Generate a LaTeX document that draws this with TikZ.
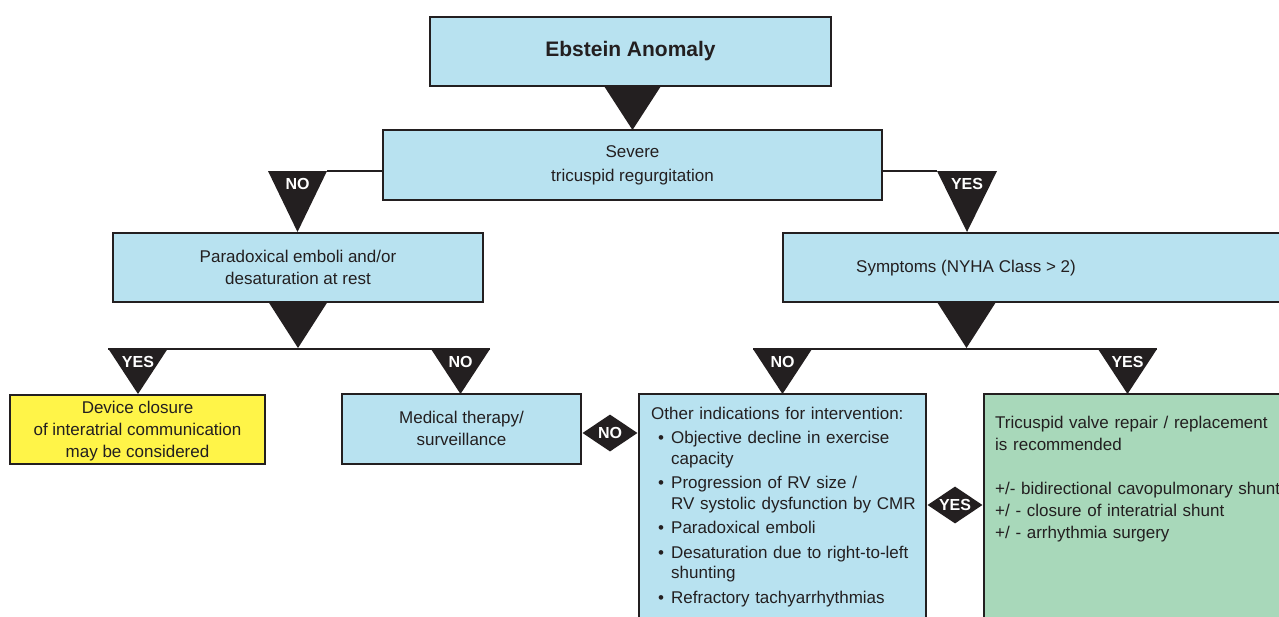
\documentclass[tikz,border=0pt]{standalone}
\usepackage{fontspec}
\setmainfont{Liberation Sans}
\usetikzlibrary{shapes.geometric,calc}

\definecolor{ink}{RGB}{35,31,32}
\definecolor{boxblue}{RGB}{184,226,240}
\definecolor{boxyellow}{RGB}{255,244,72}
\definecolor{boxgreen}{RGB}{168,216,186}

% filled downward triangle with a white tag: name, x, top y, width, height, text
\newcommand\decisiontri[6]{%
  \fill[ink] (#2-#4/2,#3) -- (#2+#4/2,#3) -- (#2,#3+#5) -- cycle;
  \node[tag] (#1) at (#2,#3+13) {#6};}

% bullet paragraph with hanging indent; lines split with \break
\newcommand\bitem[1]{\par\vskip 4pt\hangindent=20pt\hangafter=1\noindent
  \makebox[20pt][l]{\hspace{7pt}\textbullet}#1}

\begin{document}
\begin{tikzpicture}[x=1pt,y=-1pt,
  font=\fontsize{17}{22}\selectfont,
  box/.style={draw=ink, line width=1.5pt, fill=boxblue, inner sep=0pt,
    align=center, text=ink},
  tag/.style={text=white, font=\fontsize{16}{16}\selectfont\bfseries, inner sep=0pt},
  conn/.style={draw=ink, line width=2.2pt},
  gate/.style={diamond, fill=ink, inner sep=0pt, minimum width=55pt, minimum height=37pt}]
\useasboundingbox (0,0) rectangle (1279,616);

% boxes
\node[box, minimum width=401, minimum height=69,
  font=\fontsize{21}{24}\selectfont\bfseries] (ebstein) at (630.5,51.5) {Ebstein Anomaly};
\node[box, minimum width=499, minimum height=70] (severe) at (632.5,165) {};
\node[text=ink, inner sep=0pt, align=center] (severetxt) at (632.5,165.5)
  {Severe\\[2pt] tricuspid regurgitation};
\node[box, minimum width=370, minimum height=69] (parad) at (298,267.5)
  {Paradoxical emboli and/or\\ desaturation at rest};
\node[box, minimum width=507, minimum height=69] (sympt) at (1036.5,267.5) {};
\node[text=ink, inner sep=0pt] (symptxt) at (966,268) {Symptoms (NYHA Class > 2)};
\node[box, fill=boxyellow, minimum width=255, minimum height=69] (device) at (137.5,429.5) {};
\node[text=ink, inner sep=0pt, align=center] (devicetxt) at (137.5,431)
  {Device closure\\ of interatrial communication\\ may be considered};
\node[box, minimum width=239, minimum height=70] (medical) at (461.5,429) {};
\node[text=ink, inner sep=0pt, align=center] (medicaltxt) at (461.5,428.5)
  {Medical therapy/\\ surveillance};
\node[box, minimum width=287, minimum height=246] (other) at (782.5,517) {};
\node[box, fill=boxgreen, minimum width=316, minimum height=246] (valve) at (1142,517) {};

% texts of the two tall boxes
\node[anchor=north west, inner sep=0pt, text width=272, align=left, text=ink,
  font=\fontsize{17}{20.5}\selectfont] (othertxt) at (651,406.5)
  {\setlength\parskip{0pt}Other indications for intervention:
   \bitem{Objective decline in exercise\break capacity}
   \bitem{Progression of RV size /\break RV systolic dysfunction by CMR}
   \bitem{Paradoxical emboli}
   \bitem{Desaturation due to right-to-left\break shunting}
   \bitem{Refractory tachyarrhythmias}};
\node[anchor=north west, inner sep=0pt, text width=330, align=left, text=ink,
  font=\fontsize{17}{22}\selectfont] (valvetxt) at (995,415.5)
  {Tricuspid valve repair / replacement\\ is recommended\\[22pt]
   +/- bidirectional cavopulmonary shunt\\ +/ - closure of interatrial shunt\\
   +/ - arrhythmia surgery};

% first split
\decisiontri{t0}{632.5}{86}{57}{44}{}
\coordinate (noAtop) at (327,171);
\coordinate (yesAtop) at (937,171);
\draw[conn] (severe.west |- noAtop) -- (noAtop);
\draw[conn] (severe.east |- yesAtop) -- (yesAtop);
\decisiontri{noA}{297.5}{171}{59}{61}{NO}
\decisiontri{yesA}{967}{171}{60}{61}{YES}

% left branch
\decisiontri{t1}{298}{302}{59}{46}{}
\coordinate (lbl) at (108,349);
\coordinate (lbr) at (490,349);
\draw[conn] (lbl) -- (lbr);
\decisiontri{yesB}{138}{349}{59}{45}{YES}
\decisiontri{noB}{460.5}{349}{59}{45}{NO}

% right branch
\decisiontri{t2}{966.5}{302}{59}{46}{}
\coordinate (rbl) at (753,349);
\coordinate (rbr) at (1157,349);
\draw[conn] (rbl) -- (rbr);
\decisiontri{noC}{782.5}{349}{59}{45}{NO}
\decisiontri{yesC}{1127.5}{349}{59}{45}{YES}

% side gates between the bottom boxes
\node[gate] (gateNo) at ($(medical.east |- 0,433)!0.5!(other.west |- 0,433)$) {};
\node[tag] at (gateNo) {NO};
\node[gate] (gateYes) at ($(other.east |- 0,505)!0.5!(valve.west |- 0,505)$) {};
\node[tag] at (gateYes) {YES};
\end{tikzpicture}
\end{document}
